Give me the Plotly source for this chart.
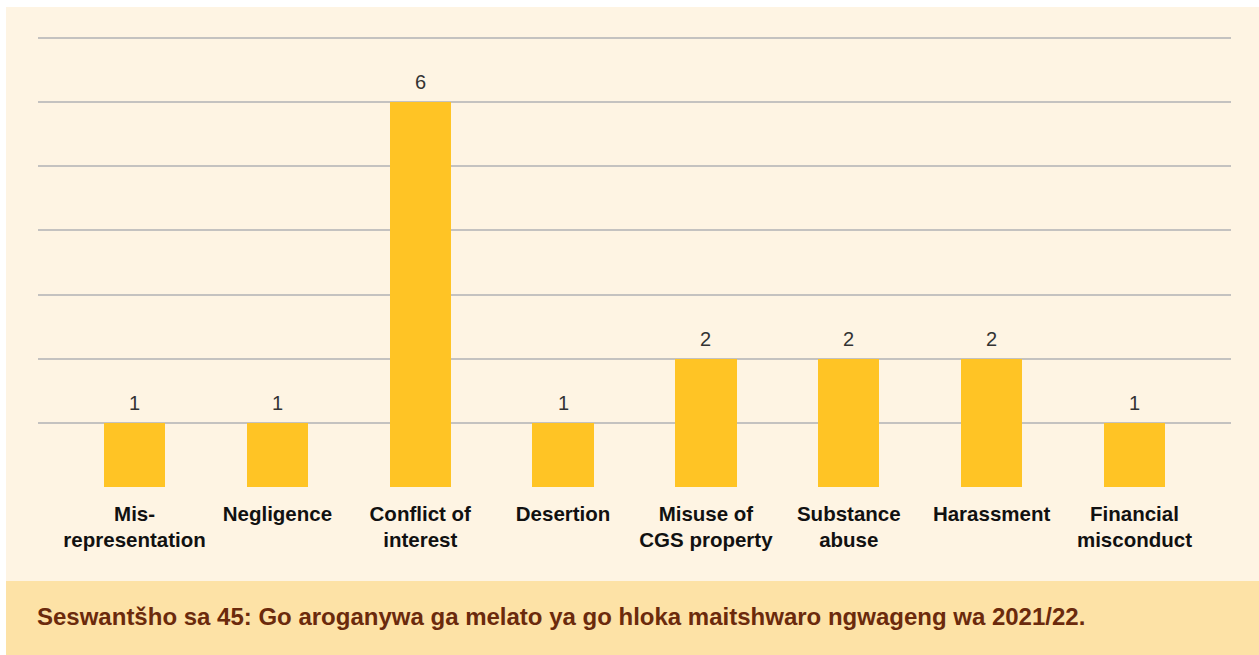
import plotly.graph_objects as go

categories = [
    "Mis-<br>representation",
    "Negligence",
    "Conflict of<br>interest",
    "Desertion",
    "Misuse of<br>CGS property",
    "Substance<br>abuse",
    "Harassment",
    "Financial<br>misconduct",
]
cases = [1, 1, 6, 1, 2, 2, 2, 1]
caption = "Seswantšho sa 45: Go aroganywa ga melato ya go hloka maitshwaro ngwageng wa 2021/22."

W, H = 1259, 655
ML, MR, MT, MB = 38, 28, 32, 168
pw, ph = W - ML - MR, H - MT - MB
FONT = "Liberation Sans, Arial, Helvetica, sans-serif"
# 7 grid steps between y=38px and the baseline
unit_px = (H - MB - 38) / 7
y_top = ph / unit_px


def px_x(p):
    return (p - ML) / pw


def px_y(p):
    return (H - MB - p) / ph


xs = list(range(len(categories)))

fig = go.Figure(
    go.Bar(
        x=xs,
        y=cases,
        width=0.43,
        marker=dict(color="#FFC425", line=dict(width=0)),
        hoverinfo="skip",
    )
)

# value labels above each bar
value_labels = [
    dict(
        x=x, y=v, xref="x", yref="y",
        text=str(v), showarrow=False,
        xanchor="center", yanchor="bottom", yshift=7,
        font=dict(family=FONT, size=20, color="#333333"),
    )
    for x, v in zip(xs, cases)
]

shapes = [
    # cream panel
    dict(type="rect", xref="paper", yref="paper", x0=px_x(6), x1=px_x(W), y0=px_y(581), y1=px_y(7),
         fillcolor="#FEF4E3", line=dict(width=0), layer="below"),
    # caption band
    dict(type="rect", xref="paper", yref="paper", x0=px_x(6), x1=px_x(W), y0=px_y(H), y1=px_y(581),
         fillcolor="#FDE2A6", line=dict(width=0), layer="below"),
]

fig.update_layout(
    width=W,
    height=H,
    margin=dict(l=ML, r=MR, t=MT, b=MB),
    paper_bgcolor="white",
    plot_bgcolor="rgba(0,0,0,0)",
    showlegend=False,
    shapes=shapes,
    bargap=0,
    xaxis=dict(
        range=[-0.676, 7.676],
        tickmode="array",
        tickvals=xs,
        ticktext=[f"<b>{c}</b>" for c in categories],
        tickfont=dict(family=FONT, size=20.5, color="#111111"),
        showgrid=False,
        zeroline=False,
        showline=False,
        ticks="",
        ticklabelstandoff=12,
        fixedrange=True,
    ),
    yaxis=dict(
        range=[0, y_top],
        tickmode="array",
        tickvals=list(range(0, 8)),
        showgrid=True,
        gridcolor="#C4C2C0",
        gridwidth=1.5,
        zeroline=False,
        showticklabels=False,
        ticks="",
        fixedrange=True,
    ),
    annotations=value_labels + [
        dict(
            text=f"<b>{caption}</b>",
            xref="paper", yref="paper",
            x=px_x(35), y=px_y(617),
            xanchor="left", yanchor="middle",
            showarrow=False,
            font=dict(family=FONT, size=24, color="#6B2A0C"),
        )
    ],
)

fig.write_html("out.html")
